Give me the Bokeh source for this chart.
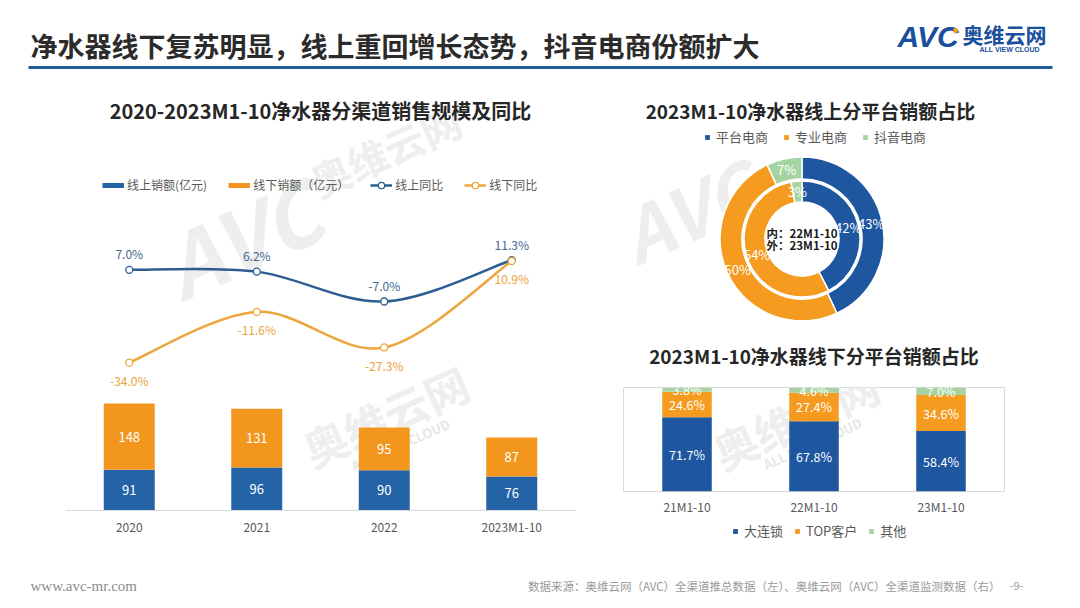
import math
from bokeh.plotting import figure
from bokeh.models import Range1d, FixedTicker, Legend, LegendItem, ColumnDataSource
from bokeh.layouts import column, row
from bokeh.embed import file_html
from bokeh.resources import INLINE
from bokeh.core.properties import value

FONT = "Noto Sans CJK SC"
NAN = float("nan")

# ---------------- data ----------------
years = ["2020", "2021", "2022", "2023M1-10"]
online_sales = [91, 96, 90, 76]            # 线上销额(亿元)
offline_sales = [148, 131, 95, 87]         # 线下销额(亿元)
online_yoy = [7.0, 6.2, -7.0, 11.3]        # 线上同比 %
offline_yoy = [-34.0, -11.6, -27.3, 10.9]  # 线下同比 %

platforms = ["平台电商", "专业电商", "抖音电商"]
share_23 = [43, 50, 7]    # outer ring 23M1-10
share_22 = [42, 54, 3]    # inner ring 22M1-10

periods = ["21M1-10", "22M1-10", "23M1-10"]
chain = [71.7, 67.8, 58.4]       # 大连锁
top_cust = [24.6, 27.4, 34.6]    # TOP客户
others = [3.8, 4.6, 7.0]         # 其他
offline_groups = ["大连锁", "TOP客户", "其他"]

# ---------------- styles ----------------
BLUE_BAR = "#2463a6"
ORANGE_BAR = "#f2961e"
BLUE_LINE = "#2b5d92"
ORANGE_LINE = "#eea53b"
BLUE_LBL = "#3d6891"
ORANGE_LBL = "#e9a23b"
D_BLUE = "#1e56a0"
D_ORANGE = "#f49b20"
D_GREEN = "#a6d4a0"
TXT = "#595959"
WM = "#eeeeee"


def base_fig(**kw):
    p = figure(toolbar_location=None, output_backend="svg", **kw)
    p.background_fill_color = "white"
    p.border_fill_color = "white"
    p.outline_line_color = None
    p.xgrid.visible = False
    p.ygrid.visible = False
    return p


def bezier_segments(xs, ys):
    n = len(xs)
    pts = list(zip(xs, ys))
    d = dict(x0=[], y0=[], x1=[], y1=[], cx0=[], cy0=[], cx1=[], cy1=[])
    for i in range(n - 1):
        p0 = pts[i - 1] if i > 0 else pts[i]
        p1 = pts[i]
        p2 = pts[i + 1]
        p3 = pts[i + 2] if i + 2 < n else pts[i + 1]
        d["x0"].append(p1[0]); d["y0"].append(p1[1])
        d["x1"].append(p2[0]); d["y1"].append(p2[1])
        d["cx0"].append(p1[0] + (p2[0] - p0[0]) / 6)
        d["cy0"].append(p1[1] + (p2[1] - p0[1]) / 6)
        d["cx1"].append(p2[0] - (p3[0] - p1[0]) / 6)
        d["cy1"].append(p2[1] - (p3[1] - p1[1]) / 6)
    return d


def wm_text(p, x, y, txt, size, angle, style="bold", color=WM, **kw):
    p.text(x=[x], y=[y], text=[txt], angle=angle, text_font=value(FONT),
           text_font_size=size, text_font_style=style, text_color=color,
           text_align="center", text_baseline="middle", level="underlay", **kw)


def style_xaxis(p, labels, standoff):
    p.xaxis.ticker = FixedTicker(ticks=list(range(len(labels))))
    p.xaxis.major_label_overrides = {i: n for i, n in enumerate(labels)}
    p.xaxis.major_tick_line_color = None
    p.xaxis.minor_tick_line_color = None
    p.xaxis.major_tick_out = 0
    p.xaxis.major_tick_in = 0
    p.xaxis.minor_tick_out = 0
    p.xaxis.major_label_standoff = standoff
    p.xaxis.major_label_text_font = FONT
    p.xaxis.major_label_text_font_size = "12px"
    p.xaxis.major_label_text_color = TXT


def legend(items, loc, gw, spacing, size):
    return Legend(items=items, orientation="horizontal", location=loc, glyph_width=gw,
                  glyph_height=16, label_height=16, label_standoff=3, spacing=spacing,
                  padding=0, margin=0, border_line_color=None, background_fill_alpha=0,
                  label_text_font=FONT, label_text_font_size=size, label_text_color=TXT)


# ---------------- header (page coordinates) ----------------
hdr = base_fig(width=1080, height=80, x_range=Range1d(0, 1080), y_range=Range1d(80, 0),
               x_axis_type=None, y_axis_type=None, min_border=0)
hdr.text(x=[30], y=[45], text=["净水器线下复苏明显，线上重回增长态势，抖音电商份额扩大"],
         text_font=value(FONT), text_font_size="27px", text_font_style="bold",
         text_color="#2b2b2b", text_baseline="middle")
hdr.segment(x0=[28], y0=[67], x1=[1052], y1=[67], line_color="#1f5a99", line_width=3)
hdr.text(x=[897], y=[36], text=["AVC"], text_font=value("Liberation Sans"), text_font_size="30px",
         text_font_style="bold italic", text_color="#1a4f9c", text_baseline="middle")
hdr.scatter(x=[955], y=[30], size=5, color="#f39a1f", line_color=None)
hdr.text(x=[962], y=[33], text=["奥维云网"], text_font=value(FONT), text_font_size="21px",
         text_font_style="bold", text_color="#1a4f9c", text_baseline="middle")
hdr.text(x=[979], y=[49], text=["ALL VIEW CLOUD"], text_font=value("Liberation Sans"),
         text_font_size="7px", text_font_style="bold", text_color="#1a4f9c", text_baseline="middle")

# ---------------- left chart ----------------
left = base_fig(width=600, height=465, x_range=Range1d(-0.5, 3.5), y_range=Range1d(0, 948.7),
                y_axis_type=None, min_border_left=65, min_border_right=25,
                min_border_top=5, min_border_bottom=35)
left.extra_y_ranges = {"yoy": Range1d(-99.3, 88.4), "py": Range1d(510, 85)}
left.extra_x_ranges = {"px": Range1d(65, 575)}

left.text(x=[320], y=[110], text=["2020-2023M1-10净水器分渠道销售规模及同比"],
          text_font=value(FONT), text_font_size="20px", text_font_style="bold",
          text_color="#262626", text_align="center", text_baseline="middle",
          x_range_name="px", y_range_name="py")

xi = list(range(len(years)))
tot = [a + b for a, b in zip(online_sales, offline_sales)]
bsrc = ColumnDataSource(dict(
    x=xi, on=online_sales, tot=tot,
    on_mid=[v / 2 for v in online_sales],
    off_mid=[a + b / 2 for a, b in zip(online_sales, offline_sales)],
    on_lbl=[str(v) for v in online_sales], off_lbl=[str(v) for v in offline_sales]))

wm_text(left, 240, 235, "AVC", "86px", 0.42, style="bold italic", x_range_name="px", y_range_name="py")
wm_text(left, 385, 150, "奥维云网", "40px", 0.42, x_range_name="px", y_range_name="py")
wm_text(left, 385, 415, "奥维云网", "44px", 0.42, x_range_name="px", y_range_name="py")
wm_text(left, 400, 444, "ALL VIEW CLOUD", "13px", 0.42, color="#e6e6e6", x_range_name="px", y_range_name="py")

left.vbar(x="x", bottom=0, top="on", width=0.4, fill_color=BLUE_BAR, line_color=None, source=bsrc)
left.vbar(x="x", bottom="on", top="tot", width=0.4, fill_color=ORANGE_BAR, line_color=None, source=bsrc)
left.text(x="x", y="on_mid", text="on_lbl", source=bsrc, text_align="center", text_baseline="middle",
          text_color="white", text_font=value(FONT), text_font_size="13px")
left.text(x="x", y="off_mid", text="off_lbl", source=bsrc, text_align="center", text_baseline="middle",
          text_color="white", text_font=value(FONT), text_font_size="13px")

bz_on = left.bezier(x0="x0", y0="y0", x1="x1", y1="y1", cx0="cx0", cy0="cy0", cx1="cx1", cy1="cy1",
                    source=ColumnDataSource(bezier_segments(xi, online_yoy)),
                    line_color=BLUE_LINE, line_width=2.5, y_range_name="yoy")
bz_off = left.bezier(x0="x0", y0="y0", x1="x1", y1="y1", cx0="cx0", cy0="cy0", cx1="cx1", cy1="cy1",
                     source=ColumnDataSource(bezier_segments(xi, offline_yoy)),
                     line_color=ORANGE_LINE, line_width=2.5, y_range_name="yoy")
sc_on = left.scatter(x=xi, y=online_yoy, size=7, fill_color="white", line_color=BLUE_LINE,
                     line_width=1.3, y_range_name="yoy")
sc_off = left.scatter(x=xi, y=offline_yoy, size=7, fill_color="white", line_color=ORANGE_LINE,
                      line_width=1.3, y_range_name="yoy")
left.text(x=xi, y=online_yoy, text=[f"{v:.1f}%" for v in online_yoy], y_offset=-16,
          text_align="center", text_baseline="middle", text_color=BLUE_LBL,
          text_font=value(FONT), text_font_size="12px", y_range_name="yoy")
left.text(x=xi, y=offline_yoy, text=[f"{v:.1f}%" for v in offline_yoy], y_offset=18,
          text_align="center", text_baseline="middle", text_color=ORANGE_LBL,
          text_font=value(FONT), text_font_size="12px", y_range_name="yoy")

style_xaxis(left, years, 7)
left.xaxis.axis_line_color = "#d9d9d9"

lg_on = left.line(x=[NAN], y=[NAN], line_color=BLUE_BAR, line_width=5)
lg_off = left.line(x=[NAN], y=[NAN], line_color=ORANGE_BAR, line_width=5)
left.add_layout(legend([
    LegendItem(label="线上销额(亿元)", renderers=[lg_on]),
    LegendItem(label="线下销额（亿元）", renderers=[lg_off]),
    LegendItem(label="线上同比", renderers=[bz_on, sc_on]),
    LegendItem(label="线下同比", renderers=[bz_off, sc_off]),
], (37, 317), 22, 21, "12px"))

# ---------------- donut chart ----------------
# frame spans page x 623..1004, y 80..320 -> 1 unit = 1 px, origin at ring centre
dn = base_fig(width=480, height=240, x_range=Range1d(-178.5, 202.5), y_range=Range1d(-81.5, 158.5),
              x_axis_type=None, y_axis_type=None, min_border_left=23, min_border_right=76,
              min_border_top=0, min_border_bottom=0)
wm_text(dn, -115, 30, "AVC", "74px", 0.42, style="bold italic")

colors = [D_BLUE, D_ORANGE, D_GREEN]


def ring(shares, r_in, r_out):
    total = sum(shares)
    cum = 0
    st, en, lx, ly = [], [], [], []
    rm = (r_in + r_out) / 2
    for s in shares:
        a0 = math.pi / 2 - 2 * math.pi * cum / total
        cum += s
        a1 = math.pi / 2 - 2 * math.pi * cum / total
        st.append(a0)
        en.append(a1)
        m = (a0 + a1) / 2
        lx.append(rm * math.cos(m))
        ly.append(rm * math.sin(m))
    return ColumnDataSource(dict(start=st, end=en, color=colors, lx=lx, ly=ly,
                                 lbl=[f"{s}%" for s in shares]))


for shares, r_in, r_out in [(share_23, 60, 82), (share_22, 37, 58)]:
    s = ring(shares, r_in, r_out)
    dn.annular_wedge(x=0, y=0, inner_radius=r_in, outer_radius=r_out, start_angle="start",
                     end_angle="end", direction="clock", fill_color="color", line_color="white",
                     line_width=1.5, source=s)
    dn.text(x="lx", y="ly", text="lbl", source=s, text_align="center", text_baseline="middle",
            text_color="white", text_font=value(FONT), text_font_size="13px")

dn.text(x=[0, 0], y=[6.5, -5.5], text=["内：22M1-10", "外：23M1-10"], text_align="center",
        text_baseline="middle", text_color="#1a1a1a", text_font=value(FONT),
        text_font_size="11.5px", text_font_style="bold")
dn.text(x=[8.5], y=[128.5], text=["2023M1-10净水器线上分平台销额占比"], text_align="center",
        text_baseline="middle", text_color="#262626", text_font=value(FONT),
        text_font_size="19px", text_font_style="bold")

dn_items = []
for name, c in zip(platforms, colors):
    r = dn.scatter(x=[NAN], y=[NAN], marker="square", fill_color=c, line_color=None)
    dn_items.append(LegendItem(label=name, renderers=[r]))
dn.add_layout(legend(dn_items, (78, 174), 12, 12, "13px"))

# ---------------- stacked bar chart ----------------
sb = base_fig(width=480, height=197, x_range=Range1d(-0.5, 2.5), y_range=Range1d(0, 100.3),
              y_axis_type=None, title="2023M1-10净水器线下分平台销额占比",
              min_border_left=23, min_border_right=76, min_border_top=67, min_border_bottom=24)
sb.title.align = "center"
sb.title.text_font = FONT
sb.title.text_font_size = "19px"
sb.title.text_font_style = "bold"
sb.title.text_color = "#262626"
sb.title.standoff = 38
sb.title.offset = -4
sb.outline_line_color = "#d9d9d9"
sb.extra_x_ranges = {"px": Range1d(623, 1004)}
sb.extra_y_ranges = {"py": Range1d(493, 387)}
wm_text(sb, 795, 418, "奥维云网", "44px", 0.42, x_range_name="px", y_range_name="py")
wm_text(sb, 812, 444, "ALL VIEW CLOUD", "13px", 0.42, color="#e6e6e6", x_range_name="px", y_range_name="py")

px = list(range(len(periods)))
ssrc = ColumnDataSource(dict(
    x=px, chain=chain, top=top_cust, oth=others,
    m1=[a / 2 for a in chain],
    m2=[a + b / 2 for a, b in zip(chain, top_cust)],
    m3=[a + b + c / 2 for a, b, c in zip(chain, top_cust, others)],
    l1=[f"{v:.1f}%" for v in chain], l2=[f"{v:.1f}%" for v in top_cust],
    l3=[f"{v:.1f}%" for v in others]))
sb.vbar_stack(["chain", "top", "oth"], x="x", width=0.39, color=[D_BLUE, D_ORANGE, D_GREEN],
              line_color=None, source=ssrc)
for m, l in [("m1", "l1"), ("m2", "l2"), ("m3", "l3")]:
    sb.text(x="x", y=m, text=l, source=ssrc, text_align="center", text_baseline="middle",
            text_color="white", text_font=value(FONT), text_font_size="12.5px")

style_xaxis(sb, periods, 6)
sb.xaxis.axis_line_color = None

# legend strip under the stacked chart (page y 517..545)
lf = base_fig(width=480, height=28, x_range=Range1d(0, 1), y_range=Range1d(0, 1),
              x_axis_type=None, y_axis_type=None, min_border_left=23, min_border_right=76,
              min_border_top=0, min_border_bottom=0)
lf_items = []
for name, c in zip(offline_groups, [D_BLUE, D_ORANGE, D_GREEN]):
    r = lf.scatter(x=[NAN], y=[NAN], marker="square", fill_color=c, line_color=None)
    lf_items.append(LegendItem(label=name, renderers=[r]))
lf.add_layout(legend(lf_items, (106, 5), 12, 8, "13px"))

# ---------------- footer (page coordinates) ----------------
ft = base_fig(width=1080, height=63, x_range=Range1d(0, 1080), y_range=Range1d(608, 545),
              x_axis_type=None, y_axis_type=None, min_border=0)
ft.text(x=[30], y=[585], text=["www.avc-mr.com"], text_font=value("Liberation Serif"),
        text_font_size="15px", text_color="#8c8c8c", text_baseline="middle")
ft.text(x=[1000], y=[585], text=["数据来源：奥维云网（AVC）全渠道推总数据（左）、奥维云网（AVC）全渠道监测数据（右）"],
        text_font=value(FONT), text_font_size="11.5px", text_color="#9a9a9a",
        text_baseline="middle", text_align="right")
ft.text(x=[1016], y=[585], text=["-9-"], text_font=value(FONT), text_font_size="11px",
        text_color="#9a9a9a", text_baseline="middle", text_align="center")

layout = column(hdr, row(left, column(dn, sb, lf)), ft)
open("out.html", "w").write(file_html(layout, INLINE))
